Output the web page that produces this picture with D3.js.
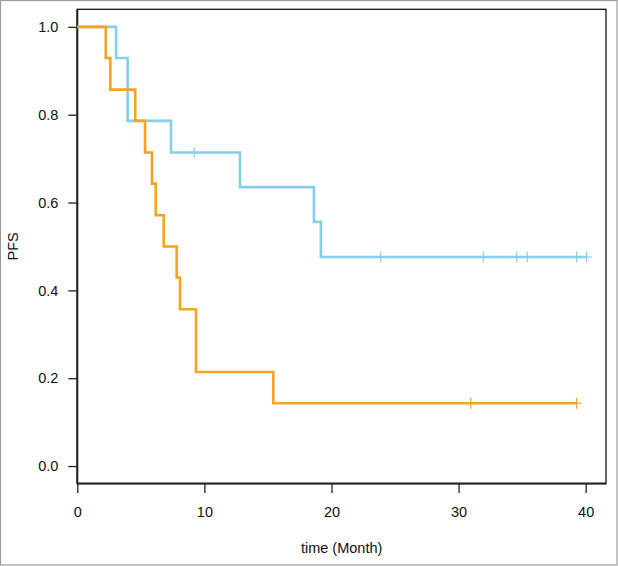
<!DOCTYPE html>
<html>
<head>
<meta charset="utf-8">
<script src="https://cdn.jsdelivr.net/npm/d3@7"></script>
<style>
  html, body { margin: 0; padding: 0; background: #fff; }
  svg { display: block; }
  text { font-family: "Liberation Sans", Arial, sans-serif; }
</style>
</head>
<body>
<div id="chart"></div>
<script>
// ---- data ----
const groups = ["blue", "orange"];
const blueTimes = [0, 3.05, 3.96, 7.37, 12.8, 18.62, 19.17, 40.08];
const blueSurv  = [1.0, 0.929, 0.786, 0.714, 0.635, 0.556, 0.476, 0.476];
const blueCensor = [9.2, 23.87, 31.94, 34.57, 35.4, 39.29, 40.08];
const orangeTimes = [0, 2.24, 2.6, 4.56, 5.33, 5.88, 6.17, 6.8, 7.82, 8.08, 9.34, 15.42, 39.29];
const orangeSurv  = [1.0, 0.929, 0.857, 0.786, 0.714, 0.643, 0.571, 0.5, 0.429, 0.357, 0.214, 0.143, 0.143];
const orangeCensor = [30.96, 39.29];
const xTicks = [0, 10, 20, 30, 40];
const yTicks = [0.0, 0.2, 0.4, 0.6, 0.8, 1.0];
const xLabel = "time (Month)";
const yLabel = "PFS";

const W = 618, H = 566;
const box = { left: 77.3, right: 606, top: 9.3, bottom: 483.6 };

const svg = d3.select("#chart").append("svg").attr("width", W).attr("height", H);

// outer frame
svg.append("rect").attr("x", 0.5).attr("y", 0.5).attr("width", W - 1.5).attr("height", H - 1.5)
  .attr("fill", "none").attr("stroke", "#9c9c9c").attr("stroke-width", 1.2);

const x = d3.scaleLinear().domain([0, 41.6]).range([box.left, box.right]);
const y = d3.scaleLinear().domain([-0.04, 1.04]).range([box.bottom, box.top]);

// plot box
svg.append("rect").attr("x", box.left).attr("y", box.top)
  .attr("width", box.right - box.left).attr("height", box.bottom - box.top)
  .attr("fill", "none").attr("stroke", "#111").attr("stroke-width", 1.3);

// axes
const yAxis = svg.append("g").attr("transform", `translate(${box.left},0)`)
  .call(d3.axisLeft(y).tickValues(yTicks).tickSize(9).tickPadding(10).tickFormat(d3.format(".1f")));
const xAxis = svg.append("g").attr("transform", `translate(0,${box.bottom})`)
  .call(d3.axisBottom(x).tickValues(xTicks).tickSize(9.5).tickPadding(13.5).tickFormat(d3.format("d")));
[yAxis, xAxis].forEach(g => {
  g.select(".domain").remove();
  g.selectAll(".tick line").attr("stroke", "#222").attr("stroke-width", 1.3);
  g.selectAll(".tick text").attr("fill", "#111").style("font-size", "14.5px")
    .style("font-family", "'Liberation Sans', Arial, sans-serif");
});
// thicker left & bottom axis lines
svg.append("line").attr("x1", box.left).attr("x2", box.left).attr("y1", box.top).attr("y2", box.bottom)
  .attr("stroke", "#222").attr("stroke-width", 2);
svg.append("line").attr("x1", box.left).attr("x2", box.right).attr("y1", box.bottom).attr("y2", box.bottom)
  .attr("stroke", "#222").attr("stroke-width", 2);

// labels
svg.append("text").attr("x", (box.left + box.right) / 2).attr("y", 553)
  .attr("text-anchor", "middle").style("font-size", "14.5px").attr("fill", "#111").text(xLabel);
svg.append("text").attr("transform", `translate(18,${(box.top + box.bottom) / 2}) rotate(-90)`)
  .attr("text-anchor", "middle").style("font-size", "14.5px").attr("fill", "#111").text(yLabel);

// curves
const series = [
  { name: groups[0], color: "#87CEEB", times: blueTimes, surv: blueSurv, censor: blueCensor },
  { name: groups[1], color: "#F4A323", times: orangeTimes, surv: orangeSurv, censor: orangeCensor }
];

const line = d3.line().x(d => x(d[0])).y(d => y(d[1])).curve(d3.curveStepAfter);

function survAt(s, t) {
  let v = s.surv[0];
  for (let i = 0; i < s.times.length; i++) if (s.times[i] <= t) v = s.surv[i];
  return v;
}

series.forEach(s => {
  const pts = s.times.map((t, i) => [t, s.surv[i]]);
  svg.append("path").datum(pts).attr("d", line)
    .attr("fill", "none").attr("stroke", s.color).attr("stroke-width", 2.6)
    .attr("stroke-linejoin", "miter").attr("stroke-linecap", "butt");
  const g = svg.append("g");
  s.censor.forEach(t => {
    const cx = x(t), cy = y(survAt(s, t));
    g.append("line").attr("x1", cx).attr("x2", cx).attr("y1", cy - 5.5).attr("y2", cy + 5.5)
      .attr("stroke", s.color).attr("stroke-width", 1.2);
    g.append("line").attr("x1", cx - 5).attr("x2", cx + 5).attr("y1", cy).attr("y2", cy)
      .attr("stroke", s.color).attr("stroke-width", 1.2);
  });
});
</script>
</body>
</html>
